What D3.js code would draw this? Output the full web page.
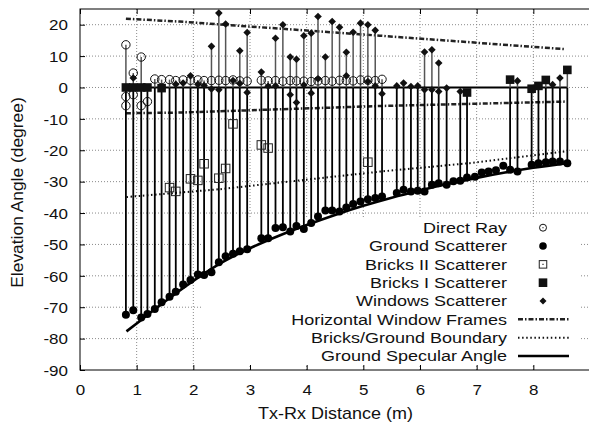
<!DOCTYPE html>
<html>
<head>
<meta charset="utf-8">
<script src="https://cdn.jsdelivr.net/npm/d3@7"></script>
<style>
  body { margin: 0; background: #fff; }
  svg { display: block; font-family: "Liberation Sans", Arial, Helvetica, sans-serif; }
</style>
</head>
<body>
<svg id="chart" width="589" height="426"></svg>
<script>
// axis ticks
const xTicks = [0, 1, 2, 3, 4, 5, 6, 7, 8];
const yTicks = [-90, -80, -70, -60, -50, -40, -30, -20, -10, 0, 10, 20];

// [distance (m), elevation (deg)]
const directRay = [
    [0.81, 13.6], [0.81, -2.9], [0.81, -5.8], [0.94, 4.6], [0.94, -2.3], [1.08, 9.7], [1.08, -5.8], [1.19, -4.5],
    [1.32, 2.7], [1.44, 2.5], [1.58, 2.5], [1.69, 2.2], [1.82, 2.4], [1.95, 2.3], [2.08, 2.4], [2.19, 2.2],
    [2.32, 2.2], [2.45, 2.3], [2.57, 2.2], [2.70, 2.4], [2.82, 2.1], [2.95, 2.0], [3.20, 2.3], [3.32, 2.1],
    [3.45, 2.2], [3.58, 2.0], [3.71, 2.2], [3.82, 2.1], [3.95, 2.0], [4.08, 1.9], [4.20, 2.1], [4.33, 2.2],
    [4.45, 2.0], [4.58, 2.3], [4.70, 2.2], [4.82, 2.1], [4.95, 2.4], [5.08, 2.3], [5.21, 2.2], [5.33, 2.6]
];

const groundScatterer = [
    [0.81, -72.4], [0.94, -71.0], [1.08, -73.3], [1.19, -72.2], [1.32, -70.6], [1.44, -68.4], [1.58, -66.7],
    [1.69, -65.1], [1.82, -62.8], [1.95, -61.3], [2.08, -59.6], [2.19, -59.7], [2.32, -58.9], [2.45, -55.7],
    [2.57, -53.8], [2.70, -53.0], [2.82, -52.2], [2.95, -51.5], [3.20, -48.0], [3.32, -48.0], [3.45, -44.8],
    [3.58, -44.5], [3.71, -45.9], [3.82, -44.1], [3.95, -45.1], [4.08, -43.2], [4.20, -41.1], [4.33, -39.2],
    [4.45, -39.2], [4.58, -39.5], [4.70, -38.2], [4.82, -37.1], [4.95, -36.3], [5.08, -35.6], [5.21, -35.2],
    [5.33, -34.7], [5.59, -33.6], [5.71, -32.6], [5.84, -33.1], [5.96, -32.9], [6.08, -33.1], [6.21, -31.0],
    [6.33, -30.5], [6.47, -31.0], [6.59, -29.9], [6.71, -29.7], [6.83, -28.7], [6.97, -28.4], [7.09, -27.1],
    [7.21, -26.8], [7.34, -26.4], [7.47, -24.9], [7.59, -26.2], [7.72, -26.8], [7.97, -24.6], [8.09, -24.1],
    [8.22, -23.8], [8.34, -23.6], [8.47, -23.6], [8.60, -24.1]
];

const bricksII = [
    [1.58, -31.9], [1.69, -33.1], [1.95, -29.1], [2.08, -29.6], [2.19, -24.3], [2.45, -28.9],
    [2.57, -25.8], [2.70, -11.6], [3.20, -18.3], [3.32, -19.3], [5.08, -23.8]
];

const bricksI = [
    [0.81, 0.0], [0.94, 0.0], [1.08, 0.0], [1.19, 0.0], [1.44, -0.2], [6.83, -1.6],
    [7.59, 2.5], [7.97, -0.4], [8.09, 0.5], [8.22, 2.4], [8.60, 5.6]
];

const windows = [
    [0.94, 3.0], [1.69, 1.0], [1.82, 1.4], [1.95, 3.7], [2.08, 1.0], [2.19, 0.6],
    [2.32, 13.1], [2.32, -0.5], [2.45, 23.7], [2.45, -0.7], [2.57, 20.2], [2.70, 2.2],
    [2.82, 11.7], [2.82, 1.3], [2.95, 17.5], [2.95, -1.6], [3.20, 4.9], [3.32, 0.4],
    [3.45, 15.7], [3.45, 0.5], [3.58, 20.0], [3.71, 9.7], [3.71, -2.3], [3.82, 9.0], [3.82, -4.8],
    [3.95, 16.5], [3.95, 0.8], [4.08, 17.3], [4.08, -1.8], [4.20, 22.6], [4.20, 2.8],
    [4.33, 9.7], [4.45, 21.0], [4.58, 19.2], [4.70, 11.2], [4.70, 3.7], [4.82, 17.6],
    [4.95, 20.5], [5.08, 20.0], [5.08, 1.9], [5.21, 18.2], [5.21, 0.5], [5.33, -2.0],
    [5.59, 0.5], [5.71, 1.4], [5.84, 0.3], [5.96, 0.5], [6.08, 11.3], [6.08, -0.7],
    [6.21, 12.0], [6.21, -0.7], [6.33, 7.8], [6.33, -1.3], [6.47, -0.2], [6.71, -1.3],
    [7.72, 2.1], [8.34, 0.9], [8.47, 3.0]
];

const frameUpper = [[0.81, 21.9], [1.76, 21.0], [5.29, 16.5], [8.56, 12.2]];
const frameLower = [[0.81, -8.2], [1.76, -8.0], [5.29, -5.9], [8.56, -4.5]];
const bricksGroundBoundary = [[0.82, -34.9], [2.47, -32.4], [5.29, -26.8], [6.88, -24.1], [8.56, -20.4]];
const groundSpecular = [
    [0.82, -77.7], [1.0, -75.2], [1.25, -71.6], [1.5, -68.2], [1.75, -64.8], [2.0, -61.6], [2.5, -55.8],
    [3.0, -51.2], [3.5, -47.3], [4.0, -43.8], [4.5, -40.6], [5.0, -37.7], [5.5, -35.1], [6.0, -32.8],
    [6.5, -30.7], [7.0, -28.8], [7.5, -27.1], [8.0, -25.6], [8.59, -24.1]
];
const zeroRef = [[0.8, 0], [8.6, 0]];

const legendLabels = ['Direct Ray', 'Ground Scatterer', 'Bricks II Scatterer', 'Bricks I Scatterer',
    'Windows Scatterer', 'Horizontal Window Frames', 'Bricks/Ground Boundary', 'Ground Specular Angle'];

const svg = d3.select('#chart');
const L = 80, R = 590, T = 9, B = 370;

const x = d3.scaleLinear().domain([0, 9]).range([L, R]);
const y = d3.scaleLinear().domain([-90, 25]).range([B, T]);

// grid
const grid = svg.append('g').attr('stroke', '#8a8a8a').attr('stroke-width', 1).attr('stroke-dasharray', '1,2');
grid.selectAll('.gx').data(xTicks.filter(d => d > 0)).join('line')
    .attr('x1', d => x(d)).attr('x2', d => x(d)).attr('y1', T).attr('y2', B);
grid.selectAll('.gy').data(yTicks.filter(d => d > -90)).join('line')
    .attr('x1', L).attr('x2', R).attr('y1', d => y(d)).attr('y2', d => y(d));

// key background hides the grid behind it
svg.append('rect').attr('x', 201).attr('y', 218).attr('width', 380).attr('height', 146).attr('fill', '#fff');

const line = d3.line().x(d => x(d[0])).y(d => y(d[1]));

// reference lines
[frameUpper, frameLower].forEach(arr => {
    svg.append('path').attr('d', line(arr)).attr('fill', 'none')
        .attr('stroke', '#222').attr('stroke-width', 2.5).attr('stroke-dasharray', '5,2,1.5,2');
});
svg.append('path').attr('d', line(bricksGroundBoundary)).attr('fill', 'none')
    .attr('stroke', '#111').attr('stroke-width', 2).attr('stroke-dasharray', '1.5,2.6');
svg.append('path').attr('d', line.curve(d3.curveMonotoneX)(groundSpecular)).attr('fill', 'none')
    .attr('stroke', '#000').attr('stroke-width', 2.6);
line.curve(d3.curveLinear);
svg.append('path').attr('d', line(zeroRef)).attr('fill', 'none').attr('stroke', '#000').attr('stroke-width', 2);

// stems: one vertical line per position, from lowest to highest detected angle
const allPts = [].concat(directRay, groundScatterer, bricksII, bricksI, windows);
const spans = Array.from(d3.rollup(allPts, v => d3.extent(v, p => p[1]), p => p[0]));
const stems = svg.append('g');
stems.selectAll('.lo').data(spans.filter(s => s[1][0] < 0)).join('line')
    .attr('x1', s => x(s[0])).attr('x2', s => x(s[0]))
    .attr('y1', s => y(s[1][0])).attr('y2', s => y(Math.min(0, s[1][1])))
    .attr('stroke', '#000').attr('stroke-width', 1.8);
stems.selectAll('.hi').data(spans.filter(s => s[1][1] > 0)).join('line')
    .attr('x1', s => x(s[0])).attr('x2', s => x(s[0]))
    .attr('y1', s => y(Math.max(0, s[1][0]))).attr('y2', s => y(s[1][1]))
    .attr('stroke', '#555').attr('stroke-width', 1.5);

// markers
const diamond = r => `M0,${-r}L${r},0L0,${r}L${-r},0Z`;
function drawOpenCircle(g, cx, cy, r) {
    g.append('circle').attr('cx', cx).attr('cy', cy).attr('r', r)
        .attr('fill', 'none').attr('stroke', '#111').attr('stroke-width', 1);
}
function drawOpenSquare(g, cx, cy, s) {
    g.append('rect').attr('x', cx - s / 2).attr('y', cy - s / 2).attr('width', s).attr('height', s)
        .attr('fill', 'none').attr('stroke', '#222').attr('stroke-width', 1);
    g.append('rect').attr('x', cx - 0.6).attr('y', cy - 0.6).attr('width', 1.2).attr('height', 1.2).attr('fill', '#222');
}

const mk = svg.append('g');
bricksII.forEach(p => drawOpenSquare(mk, x(p[0]), y(p[1]), 8.5));
mk.selectAll('.gs').data(groundScatterer).join('circle')
    .attr('cx', d => x(d[0])).attr('cy', d => y(d[1])).attr('r', 4).attr('fill', '#000');
mk.selectAll('.b1').data(bricksI).join('rect')
    .attr('x', d => x(d[0]) - 4.3).attr('y', d => y(d[1]) - 4.3).attr('width', 8.6).attr('height', 8.6).attr('fill', '#111');
mk.selectAll('.win').data(windows).join('path')
    .attr('transform', d => `translate(${x(d[0])},${y(d[1])})`).attr('d', diamond(3.8)).attr('fill', '#111');
directRay.forEach(p => drawOpenCircle(mk, x(p[0]), y(p[1]), 4.2));

// axes (plain hyphen minus, as in the original)
const fmt = d => String(d);
const xAxis = svg.append('g').attr('transform', `translate(0,${B})`)
    .call(d3.axisBottom(x).tickValues(xTicks).tickSizeInner(-5).tickSizeOuter(0).tickFormat(fmt));
xAxis.select('.domain').remove();
xAxis.selectAll('text').attr('y', 0).attr('dy', null).attr('fill', '#111')
    .attr('transform', 'translate(0,24.5) scale(1,0.88)').style('font-size', '17px');

const xTop = svg.append('g').attr('transform', `translate(0,${T})`)
    .call(d3.axisTop(x).tickValues(xTicks).tickSizeInner(-5).tickSizeOuter(0).tickFormat(''));
xTop.select('.domain').remove();

const yAxis = svg.append('g').attr('transform', `translate(${L},0)`)
    .call(d3.axisLeft(y).tickValues(yTicks).tickSizeInner(-5).tickSizeOuter(0).tickFormat(fmt));
yAxis.select('.domain').remove();
yAxis.selectAll('text').attr('x', 0).attr('dy', null).attr('fill', '#111')
    .attr('transform', 'translate(-12,5.3) scale(1,0.88)').style('font-size', '17px');
svg.selectAll('.tick line').attr('stroke', '#000');

svg.append('rect').attr('x', L).attr('y', T).attr('width', R - L).attr('height', B - T)
    .attr('fill', 'none').attr('stroke', '#000').attr('stroke-width', 1);

// axis titles
svg.append('text').attr('transform', 'translate(335.5,418.5) scale(1,0.9)')
    .attr('text-anchor', 'middle').style('font-size', '18px').attr('fill', '#111').text('Tx-Rx Distance (m)');
svg.append('text').attr('transform', 'translate(23,192.5) rotate(-90)')
    .attr('text-anchor', 'middle').style('font-size', '17.4px').attr('fill', '#111').text('Elevation Angle (degree)');

// legend
const key = svg.append('g');
const rowY = i => 227.7 + i * 18.33;
const symX = 543, lx1 = 518, lx2 = 569;
legendLabels.forEach((t, i) => {
    key.append('text').attr('transform', `translate(507,${rowY(i) + 5.4}) scale(1,0.85)`)
        .attr('text-anchor', 'end').style('font-size', '18px').attr('fill', '#111').text(t);
});
drawOpenCircle(key, symX, rowY(0), 3.5);
key.append('circle').attr('cx', symX).attr('cy', rowY(0)).attr('r', 0.6).attr('fill', '#111');
key.append('circle').attr('cx', symX).attr('cy', rowY(1)).attr('r', 3.8).attr('fill', '#000');
drawOpenSquare(key, symX, rowY(2), 7.5);
key.append('rect').attr('x', symX - 4.3).attr('y', rowY(3) - 4.3).attr('width', 8.6).attr('height', 8.6).attr('fill', '#111');
key.append('path').attr('transform', `translate(${symX},${rowY(4)})`).attr('d', diamond(3.5)).attr('fill', '#111');
key.append('line').attr('x1', lx1).attr('x2', lx2).attr('y1', rowY(5)).attr('y2', rowY(5))
    .attr('stroke', '#222').attr('stroke-width', 2.5).attr('stroke-dasharray', '5,2,1.5,2');
key.append('line').attr('x1', lx1).attr('x2', lx2).attr('y1', rowY(6)).attr('y2', rowY(6))
    .attr('stroke', '#111').attr('stroke-width', 2).attr('stroke-dasharray', '1.5,2.6');
key.append('line').attr('x1', lx1).attr('x2', lx2).attr('y1', rowY(7)).attr('y2', rowY(7))
    .attr('stroke', '#000').attr('stroke-width', 2.6);
</script>
</body>
</html>
